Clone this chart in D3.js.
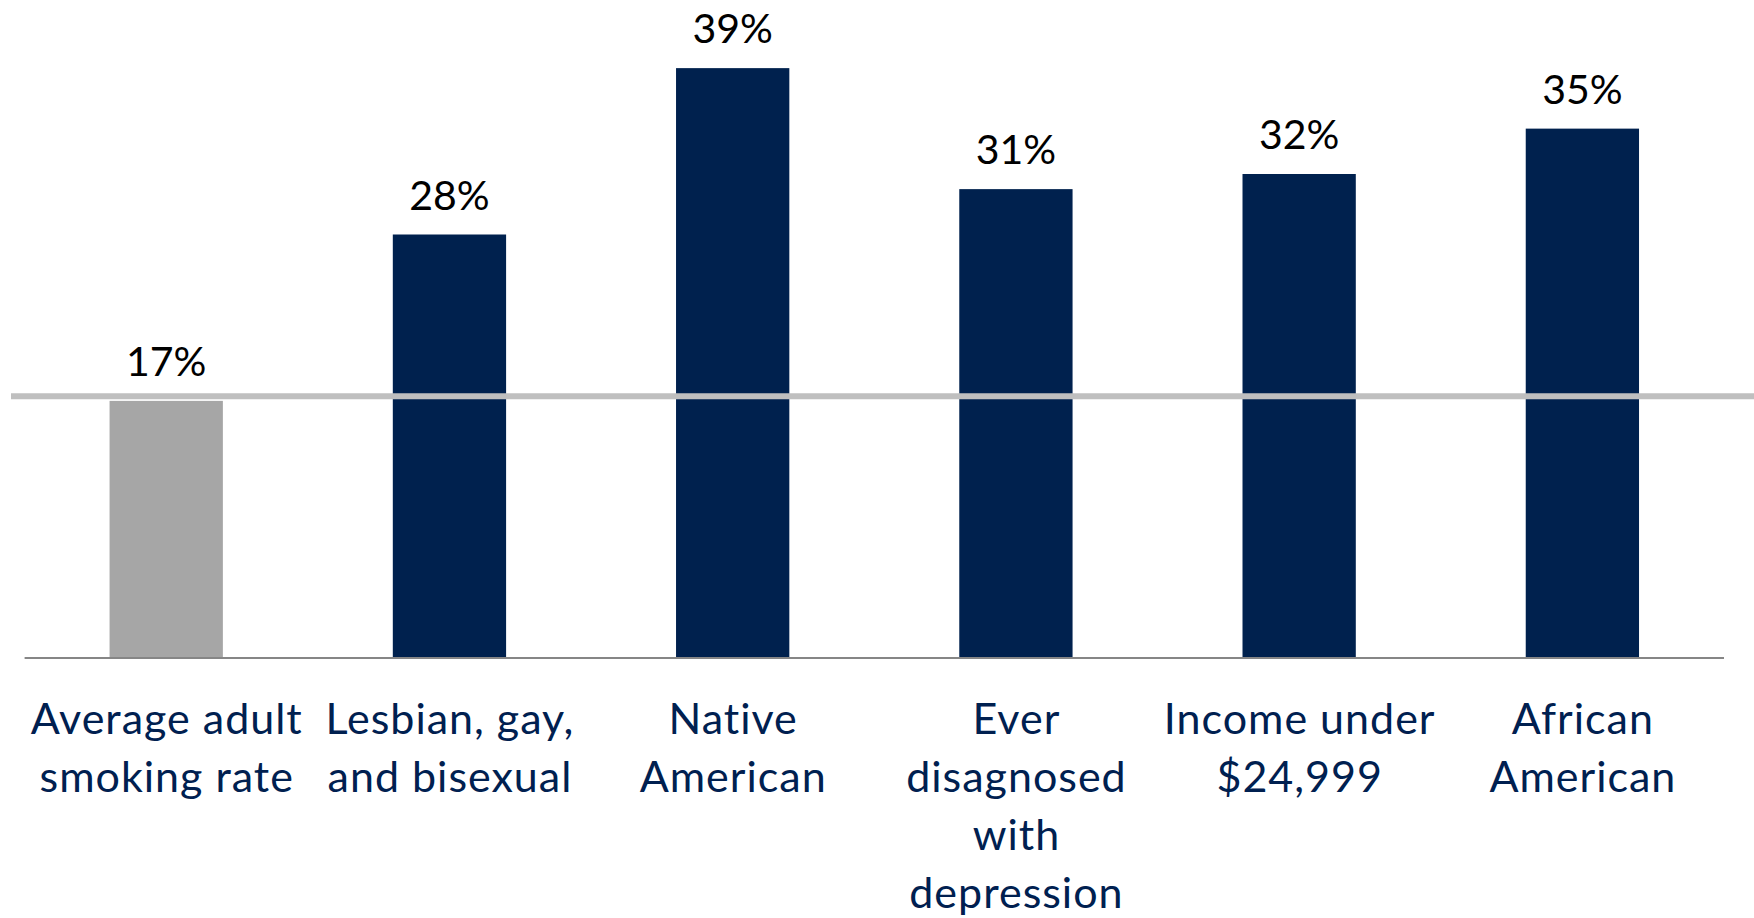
<!DOCTYPE html>
<html>
<head>
<meta charset="utf-8">
<script src="https://cdn.jsdelivr.net/npm/d3@7"></script>
<style>
  html, body { margin: 0; padding: 0; background: #ffffff; }
  svg { display: block; }
</style>
</head>
<body>
<svg id="chart" width="1754" height="918"></svg>
<script>
// ---- data ----
const categories = [
  ["Average adult", "smoking rate"],
  ["Lesbian, gay,", "and bisexual"],
  ["Native", "American"],
  ["Ever", "disagnosed", "with", "depression"],
  ["Income under", "$24,999"],
  ["African", "American"]
];
const values = [17, 28, 39, 31, 32, 35];
const valueLabels = ["17%", "28%", "39%", "31%", "32%", "35%"];
const highlightIndex = 0;      // the average bar drawn in grey
const referenceValue = 17.3;   // grey horizontal reference line
const yDomain = [0, 40];

// ---- layout ----
const W = 1754, H = 918;
const plot = { left: 24.6, right: 1724, top: 53, bottom: 658 };
const fontFamily = "Lato, 'Open Sans', sans-serif";

const svg = d3.select("#chart");

const x = d3.scaleBand()
  .domain(d3.range(values.length))
  .range([plot.left, plot.right])
  .paddingInner(0.6)
  .paddingOuter(0.3);

const y = d3.scaleLinear()
  .domain(yDomain)
  .range([plot.bottom, plot.top]);

// bars
svg.append("g").selectAll("rect")
  .data(values)
  .join("rect")
  .attr("x", (d, i) => x(i))
  .attr("width", x.bandwidth())
  .attr("y", d => y(d))
  .attr("height", d => y(0) - y(d))
  .attr("fill", (d, i) => i === highlightIndex ? "#a6a6a6" : "#00214e");

// reference line
svg.append("line")
  .attr("x1", 11).attr("x2", W)
  .attr("y1", y(referenceValue)).attr("y2", y(referenceValue))
  .attr("stroke", "#bfbfbf")
  .attr("stroke-width", 6);

// x axis line
const xAxis = d3.axisBottom(x).tickSize(0).tickFormat("");
const axG = svg.append("g")
  .attr("transform", `translate(0,${y(0)})`)
  .call(xAxis);
axG.select(".domain")
  .attr("stroke", "#868686")
  .attr("stroke-width", 2.2)
  .attr("d", `M${plot.left},0H${plot.right}`);

// value labels
svg.append("g").selectAll("text")
  .data(values)
  .join("text")
  .attr("x", (d, i) => x(i) + x.bandwidth() / 2)
  .attr("y", d => y(d) - 25)
  .attr("text-anchor", "middle")
  .attr("font-family", fontFamily)
  .attr("font-size", 41)
  .attr("fill", "#000000")
  .text((d, i) => valueLabels[i]);

// category labels
const catG = svg.append("g");
categories.forEach((lines, i) => {
  const cx = x(i) + x.bandwidth() / 2;
  const t = catG.append("text")
    .attr("x", cx)
    .attr("y", 734)
    .attr("text-anchor", "middle")
    .attr("font-family", fontFamily)
    .attr("font-size", 43)
    .attr("letter-spacing", "1px")
    .attr("fill", "#002050");
  lines.forEach((ln, j) => {
    t.append("tspan")
      .attr("x", cx + 0.5)
      .attr("y", 734 + j * 58)
      .text(ln);
  });
});
</script>
</body>
</html>
